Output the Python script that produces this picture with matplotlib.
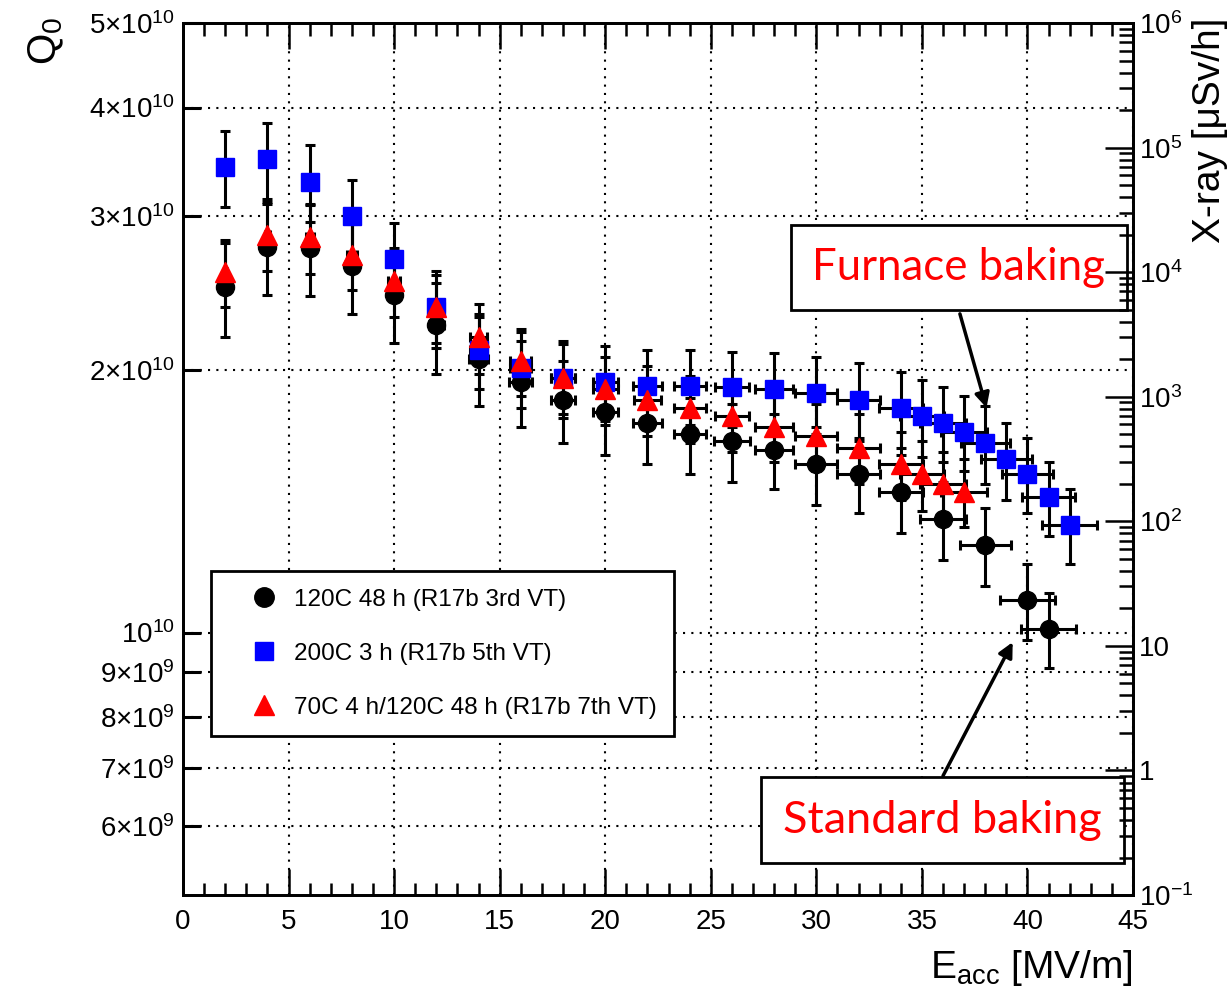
import matplotlib
matplotlib.use('Agg')
import matplotlib.pyplot as plt
from matplotlib.lines import Line2D
from matplotlib.ticker import FixedLocator, FixedFormatter, NullLocator, LogLocator

plt.rcParams['font.family'] = ['Liberation Sans', 'DejaVu Sans']
plt.rcParams['mathtext.fontset'] = 'custom'
plt.rcParams['mathtext.rm'] = 'Liberation Sans'
plt.rcParams['mathtext.it'] = 'Liberation Sans:italic'

# 120C 48 h (R17b 3rd VT)
e_std = [2, 4, 6, 8, 10, 12, 14, 16, 18, 20, 22, 24, 26, 28, 30, 32, 34, 36, 38, 40, 41]
q_std = [2.49, 2.77, 2.76, 2.63, 2.44, 2.25, 2.06, 1.94, 1.85, 1.79, 1.74, 1.69, 1.66, 1.62,
         1.56, 1.52, 1.45, 1.35, 1.26, 1.09, 1.01]
qerr_std = [0.31, 0.33, 0.33, 0.31, 0.29, 0.27, 0.24, 0.22, 0.20, 0.19, 0.18, 0.17, 0.17, 0.16,
            0.16, 0.15, 0.15, 0.14, 0.13, 0.11, 0.10]
eerr_std = [0.06, 0.12, 0.18, 0.24, 0.3, 0.36, 0.45, 0.55, 0.55, 0.6, 0.7, 0.75, 0.85, 0.9,
            1.0, 1.0, 1.05, 1.1, 1.2, 1.3, 1.3]

# 200C 3 h (R17b 5th VT)
e_furn = [2, 4, 6, 8, 10, 12, 14, 16, 18, 20, 22, 24, 26, 28, 30, 32, 34, 35, 36, 37, 38, 39, 40, 41, 42]
q_furn = [3.42, 3.49, 3.29, 3.00, 2.68, 2.36, 2.11, 2.01, 1.96, 1.94, 1.92, 1.92, 1.91, 1.90,
          1.88, 1.85, 1.81, 1.77, 1.74, 1.70, 1.65, 1.58, 1.52, 1.43, 1.33]
qerr_furn = [0.34, 0.35, 0.33, 0.30, 0.27, 0.24, 0.21, 0.20, 0.20, 0.19, 0.19, 0.19, 0.19, 0.19,
             0.19, 0.19, 0.18, 0.18, 0.17, 0.17, 0.17, 0.16, 0.15, 0.14, 0.13]
eerr_furn = [0.06, 0.12, 0.18, 0.24, 0.3, 0.36, 0.42, 0.5, 0.55, 0.6, 0.7, 0.75, 0.8, 0.9,
             1.0, 1.0, 1.05, 1.05, 1.1, 1.1, 1.15, 1.2, 1.2, 1.25, 1.3]

# 70C 4 h/120C 48 h (R17b 7th VT)
e_mid = [2, 4, 6, 8, 10, 12, 14, 16, 18, 20, 22, 24, 26, 28, 30, 32, 34, 35, 36, 37]
q_mid = [2.59, 2.86, 2.84, 2.71, 2.53, 2.36, 2.18, 2.05, 1.96, 1.90, 1.85, 1.81, 1.77, 1.72,
         1.68, 1.63, 1.56, 1.52, 1.48, 1.45]
qerr_mid = [0.23, 0.26, 0.26, 0.24, 0.23, 0.21, 0.20, 0.18, 0.18, 0.17, 0.17, 0.16, 0.16, 0.15,
            0.15, 0.15, 0.14, 0.14, 0.13, 0.13]
eerr_mid = [0.06, 0.12, 0.18, 0.24, 0.3, 0.36, 0.42, 0.5, 0.55, 0.6, 0.65, 0.75, 0.8, 0.9,
            1.0, 1.0, 1.05, 1.05, 1.1, 1.1]

labels = ['120C 48 h (R17b 3rd VT)', '200C 3 h (R17b 5th VT)', '70C 4 h/120C 48 h (R17b 7th VT)']

q_ticks = [6e9, 7e9, 8e9, 9e9, 1e10, 2e10, 3e10, 4e10, 5e10]
q_ticklabels = [r'6$\times$10$^{9}$', r'7$\times$10$^{9}$', r'8$\times$10$^{9}$', r'9$\times$10$^{9}$',
                r'10$^{10}$', r'2$\times$10$^{10}$', r'3$\times$10$^{10}$', r'4$\times$10$^{10}$',
                r'5$\times$10$^{10}$']
xray_ticks = [1e-1, 1, 10, 1e2, 1e3, 1e4, 1e5, 1e6]
xray_ticklabels = [r'10$^{-1}$', '1', '10', r'10$^{2}$', r'10$^{3}$', r'10$^{4}$', r'10$^{5}$', r'10$^{6}$']

fig = plt.figure(figsize=(12.31, 9.89), dpi=100)
ax = fig.add_axes([0.1487, 0.0950, 0.7717, 0.8817])
ax.set_yscale('log')
ax.set_xlim(0, 45)
ax.set_ylim(5e9, 5e10)

ebar = dict(ls='none', ecolor='black', elinewidth=2.2, capsize=3.5, capthick=2.2)
ax.errorbar(e_std, [v * 1e10 for v in q_std], yerr=[v * 1e10 for v in qerr_std], xerr=eerr_std,
            marker='o', ms=13, mfc='black', mec='black', **ebar)
ax.errorbar(e_furn, [v * 1e10 for v in q_furn], yerr=[v * 1e10 for v in qerr_furn], xerr=eerr_furn,
            marker='s', ms=12.5, mfc='#0000ff', mec='#0000ff', **ebar)
ax.errorbar(e_mid, [v * 1e10 for v in q_mid], yerr=[v * 1e10 for v in qerr_mid], xerr=eerr_mid,
            marker='^', ms=15, mfc='#ff0000', mec='#ff0000', **ebar)

# axes styling (ROOT look)
for s in ax.spines.values():
    s.set_linewidth(2)
ax.yaxis.set_major_locator(FixedLocator(q_ticks))
ax.yaxis.set_major_formatter(FixedFormatter(q_ticklabels))
ax.yaxis.set_minor_locator(NullLocator())
ax.set_xticks(range(0, 46, 5))
ax.set_xticks(range(0, 46, 1), minor=True)
ax.tick_params(axis='x', which='major', direction='in', length=19, width=1.8, top=True,
               labelsize=20, pad=10)
ax.tick_params(axis='x', which='minor', direction='in', length=9, width=1.8, top=True)
ax.tick_params(axis='y', which='major', direction='in', length=13, width=2.2, labelsize=20, pad=6)
ax.grid(True, which='major', color='black', ls=(0, (1, 3)), lw=1.5)

ax2 = ax.twinx()
ax2.set_yscale('log')
ax2.set_ylim(1e-1, 1e6)
ax2.yaxis.set_major_locator(FixedLocator(xray_ticks))
ax2.yaxis.set_major_formatter(FixedFormatter(xray_ticklabels))
ax2.yaxis.set_minor_locator(LogLocator(base=10, subs=range(2, 10), numticks=20))
ax2.tick_params(axis='y', which='major', direction='in', length=20, width=1.8, labelsize=20, pad=4)
ax2.tick_params(axis='y', which='minor', direction='in', length=10, width=1.8)
for s in ax2.spines.values():
    s.set_linewidth(2)

# legend
handles = [Line2D([], [], ls='none', marker='o', ms=14, color='black'),
           Line2D([], [], ls='none', marker='s', ms=13, color='#0000ff'),
           Line2D([], [], ls='none', marker='^', ms=15, color='#ff0000')]
leg = ax.legend(handles, labels, loc='upper left', bbox_to_anchor=(0.0295, 0.3716),
                fontsize=17.5, frameon=True, fancybox=False, framealpha=1, edgecolor='black',
                borderpad=0.72, labelspacing=1.32, handletextpad=-0.2, handlelength=2.9,
                borderaxespad=0)
leg.get_frame().set_linewidth(2)
leg.set_zorder(5)

# annotations
ax.text(36.75, 2.62e10, 'Furnace baking', family=['Lato', 'DejaVu Sans'], fontsize=31.5,
        color='#ff0000', ha='center', va='center', zorder=6,
        bbox=dict(boxstyle='square,pad=0.5', fc='white', ec='black', lw=2))
ax.text(35.97, 6.09e9, 'Standard baking', family=['Lato', 'DejaVu Sans'], fontsize=32.5,
        color='#ff0000', ha='center', va='center', zorder=6,
        bbox=dict(boxstyle='square,pad=0.5', fc='white', ec='black', lw=2))
arrow = dict(arrowstyle='-|>', lw=2.5, color='black', mutation_scale=22, shrinkA=0, shrinkB=0)
ax.annotate('', xy=(38.06, 1.81e10), xytext=(36.8, 2.32e10), arrowprops=arrow, zorder=6)
ax.annotate('', xy=(39.3, 9.75e9), xytext=(36.0, 6.85e9), arrowprops=arrow, zorder=6)

# axis titles
fig.text(0.038, 0.983, r'Q$_{0}$', rotation=90, ha='center', va='top', fontsize=29)
fig.text(0.983, 0.982, 'X-ray [μSv/h]', rotation=90, ha='center', va='top', fontsize=28)
fig.text(0.9204, 0.011, r'E$_{\mathrm{acc}}$ [MV/m]', ha='right', va='baseline', fontsize=28)

fig.savefig('out.png', dpi=100)
